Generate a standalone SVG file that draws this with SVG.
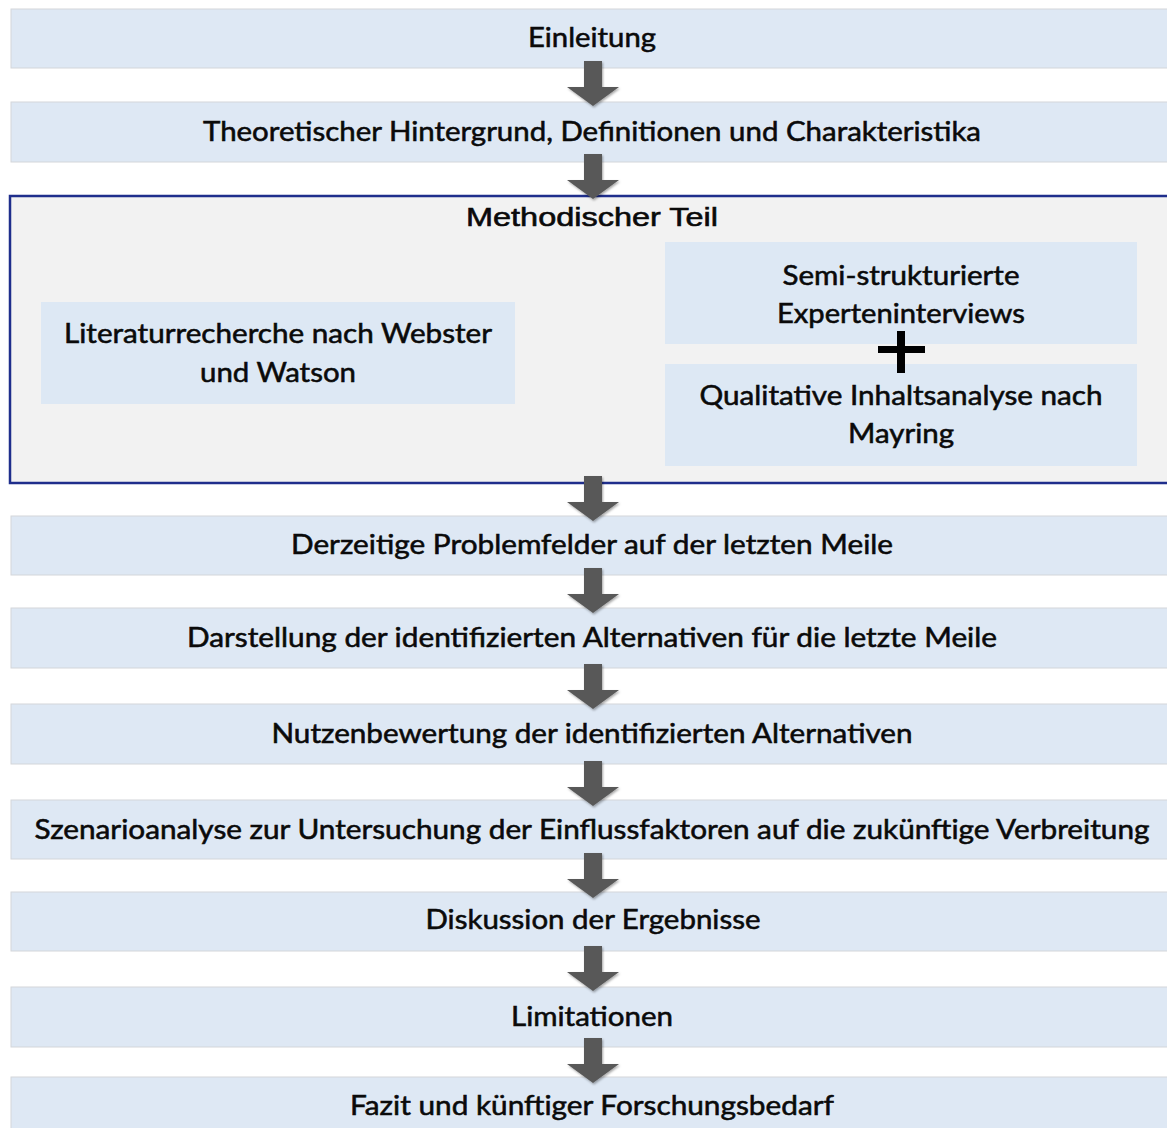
<svg xmlns="http://www.w3.org/2000/svg" xmlns:xlink="http://www.w3.org/1999/xlink" width="1167" height="1128" viewBox="0 0 1167 1128">
<style>
.box{fill:#dee8f4;stroke:#d3d6da;stroke-width:1}
.sub{fill:#dde8f4}
.t{font-family:Lato,"Open Sans","Liberation Sans",sans-serif;font-size:27px;fill:#0a0a0a;stroke:#0a0a0a;stroke-width:0.55px;text-anchor:middle}
.ta{font-family:"Liberation Sans",Arial,sans-serif;font-size:26.5px;fill:#0a0a0a;stroke:#0a0a0a;stroke-width:0.6px;text-anchor:middle}
.arrow{fill:#595959}
</style>
<defs>
<filter id="sh" x="-30%" y="-30%" width="160%" height="160%">
<feDropShadow dx="1" dy="1.5" stdDeviation="1.2" flood-color="#000" flood-opacity="0.35"/>
</filter>
<path id="arr" d="M-9,0 H9 V26 H26 L0,45 L-26,26 H-9 Z"/>
</defs>
<rect width="1167" height="1128" fill="#ffffff"/>

<g id="n1"><rect class="box" x="11" y="9" width="1170" height="59"/><text class="t" x="592" y="47" textLength="128" lengthAdjust="spacingAndGlyphs">Einleitung</text></g>
<g id="n2"><rect class="box" x="11" y="102" width="1170" height="60"/><text class="t" x="592" y="141" textLength="778" lengthAdjust="spacingAndGlyphs">Theoretischer Hintergrund, Definitionen und Charakteristika</text></g>

<g id="n3">
<rect x="10" y="196" width="1170" height="287" fill="#f2f2f2" stroke="#1f2e8c" stroke-width="2.5"/>
<text class="ta" x="592" y="226" textLength="252" lengthAdjust="spacingAndGlyphs">Methodischer Teil</text>
</g>
<g id="n3a"><rect class="sub" x="41" y="302" width="474" height="102"/>
<text class="t" x="278" y="343" textLength="428" lengthAdjust="spacingAndGlyphs">Literaturrecherche nach Webster</text>
<text class="t" x="278" y="382" textLength="156" lengthAdjust="spacingAndGlyphs">und Watson</text></g>
<g id="n3b"><rect class="sub" x="665" y="242" width="472" height="102"/>
<text class="t" x="901" y="285" textLength="237" lengthAdjust="spacingAndGlyphs">Semi-strukturierte</text>
<text class="t" x="901" y="323" textLength="248" lengthAdjust="spacingAndGlyphs">Experteninterviews</text></g>
<g id="n3c"><rect class="sub" x="665" y="364" width="472" height="102"/>
<text class="t" x="901" y="405" textLength="403" lengthAdjust="spacingAndGlyphs">Qualitative Inhaltsanalyse nach</text>
<text class="t" x="901" y="443" textLength="106" lengthAdjust="spacingAndGlyphs">Mayring</text></g>
<g id="plus" fill="#000"><rect x="878" y="346" width="47" height="7"/><rect x="897" y="331" width="8" height="42"/></g>

<g id="n4"><rect class="box" x="11" y="516" width="1170" height="59"/><text class="t" x="592" y="554" textLength="602" lengthAdjust="spacingAndGlyphs">Derzeitige Problemfelder auf der letzten Meile</text></g>
<g id="n5"><rect class="box" x="11" y="608" width="1170" height="60"/><text class="t" x="592" y="647" textLength="810" lengthAdjust="spacingAndGlyphs">Darstellung der identifizierten Alternativen für die letzte Meile</text></g>
<g id="n6"><rect class="box" x="11" y="704" width="1170" height="60"/><text class="t" x="592" y="743" textLength="641" lengthAdjust="spacingAndGlyphs">Nutzenbewertung der identifizierten Alternativen</text></g>
<g id="n7"><rect class="box" x="11" y="800" width="1170" height="59"/><text class="t" x="592" y="839" textLength="1115" lengthAdjust="spacingAndGlyphs">Szenarioanalyse zur Untersuchung der Einflussfaktoren auf die zukünftige Verbreitung</text></g>
<g id="n8"><rect class="box" x="11" y="892" width="1170" height="59"/><text class="t" x="593" y="929" textLength="335" lengthAdjust="spacingAndGlyphs">Diskussion der Ergebnisse</text></g>
<g id="n9"><rect class="box" x="11" y="987" width="1170" height="60"/><text class="t" x="592" y="1026" textLength="162" lengthAdjust="spacingAndGlyphs">Limitationen</text></g>
<g id="n10"><rect class="box" x="11" y="1077" width="1170" height="60"/><text class="t" x="592" y="1115" textLength="484" lengthAdjust="spacingAndGlyphs">Fazit und künftiger Forschungsbedarf</text></g>

<g id="connectors" class="arrow" filter="url(#sh)">
<use xlink:href="#arr" x="593" y="61"/>
<use xlink:href="#arr" x="593" y="154"/>
<use xlink:href="#arr" x="593" y="476"/>
<use xlink:href="#arr" x="593" y="568"/>
<use xlink:href="#arr" x="593" y="664"/>
<use xlink:href="#arr" x="593" y="761"/>
<use xlink:href="#arr" x="593" y="853"/>
<use xlink:href="#arr" x="593" y="946"/>
<use xlink:href="#arr" x="593" y="1038"/>
</g>
</svg>
